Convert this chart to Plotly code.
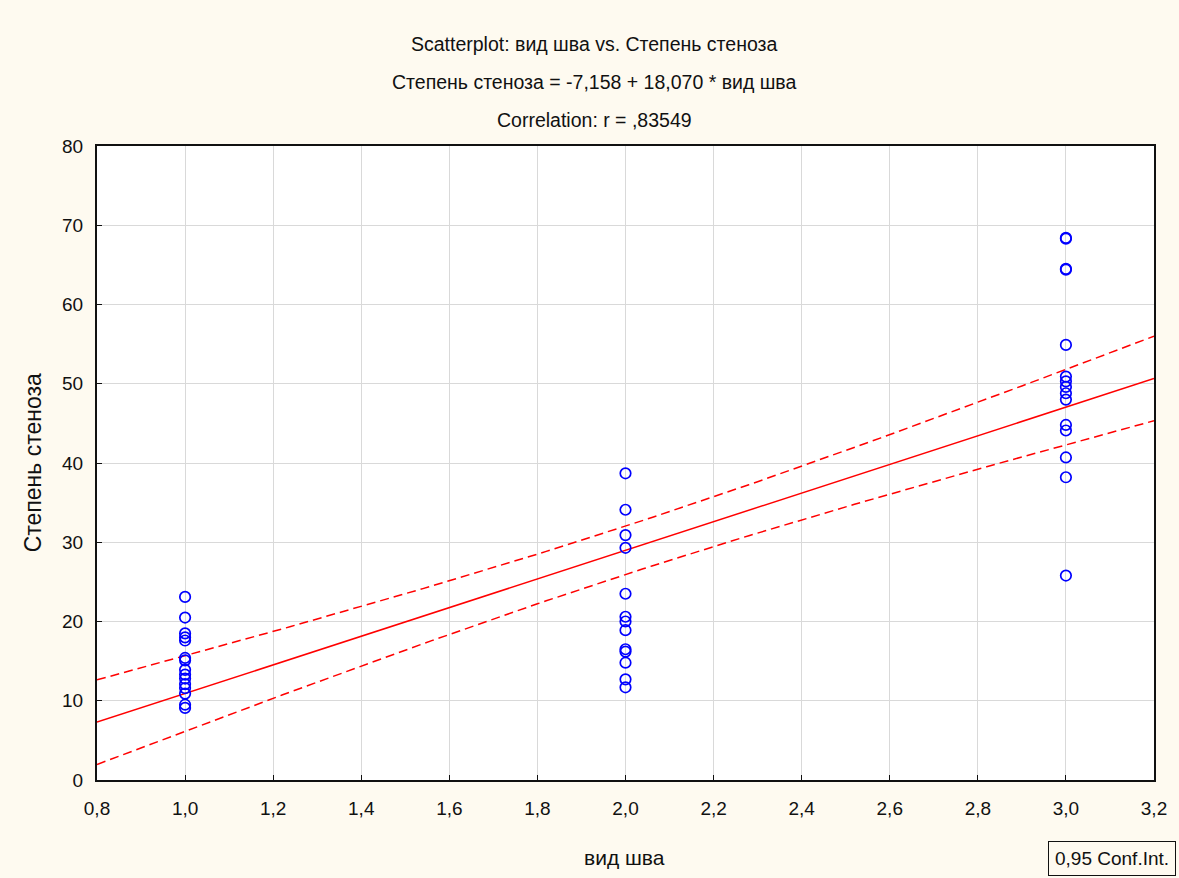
import numpy as np
import plotly.graph_objects as go

# ---- data ----
x_group1 = [1.0] * 15
y_group1 = [23.1, 20.5, 18.5, 18.0, 17.6, 15.4, 15.1, 13.9, 13.3, 12.8, 12.1, 11.6, 10.9, 9.5, 9.1]
x_group2 = [2.0] * 13
y_group2 = [38.7, 34.1, 30.9, 29.3, 23.5, 20.6, 20.0, 18.9, 16.5, 16.2, 14.8, 12.7, 11.7]
x_group3 = [3.0] * 15
y_group3 = [68.4, 68.3, 64.5, 64.4, 54.9, 50.9, 50.3, 49.6, 48.8, 48.0, 44.8, 44.1, 40.7, 38.2, 25.8]

# regression (from the chart title) and confidence band parameters
intercept = -7.158
slope = 18.070
x_mean = 2.0
ci_half_at_mean = 3.05
x_var = 0.70

x_ticks = [0.8, 1.0, 1.2, 1.4, 1.6, 1.8, 2.0, 2.2, 2.4, 2.6, 2.8, 3.0, 3.2]
x_tick_text = ["0,8", "1,0", "1,2", "1,4", "1,6", "1,8", "2,0", "2,2", "2,4", "2,6", "2,8", "3,0", "3,2"]
y_ticks = [0, 10, 20, 30, 40, 50, 60, 70, 80]

title_lines = [
    "Scatterplot: вид шва vs. Степень стеноза",
    "Степень стеноза = -7,158 + 18,070 * вид шва",
    "Correlation: r = ,83549",
]

xs = x_group1 + x_group2 + x_group3
ys = y_group1 + y_group2 + y_group3

xl = np.linspace(0.8, 3.2, 121)
yl = intercept + slope * xl
half = ci_half_at_mean * np.sqrt(1 + (xl - x_mean) ** 2 / x_var)

FONT = "Liberation Sans, Arial, sans-serif"
TXT = "#111111"

W, H = 1179, 878
ML, MR, MT, MB = 97, 20, 146, 98
pw = W - ML - MR
ph = H - MT - MB


def px(x):
    return (x - ML) / pw


def py(y):
    return (H - y - MB) / ph


fig = go.Figure()
fig.add_trace(go.Scatter(x=xl, y=yl + half, mode="lines",
                         line=dict(color="#ff0000", width=1.5, dash="9px,5px"),
                         hoverinfo="skip", showlegend=False))
fig.add_trace(go.Scatter(x=xl, y=yl - half, mode="lines",
                         line=dict(color="#ff0000", width=1.5, dash="9px,5px"),
                         hoverinfo="skip", showlegend=False))
fig.add_trace(go.Scatter(x=xl, y=yl, mode="lines",
                         line=dict(color="#ff0000", width=1.5),
                         showlegend=False))
fig.add_trace(go.Scatter(x=xs, y=ys, mode="markers",
                         marker=dict(symbol="circle-open", size=10.5, color="#0000ff",
                                     line=dict(width=1.7, color="#0000ff")),
                         showlegend=False))

annotations = []
for i, t in enumerate(title_lines):
    annotations.append(dict(text=t, x=px(597), y=py(44 + 38 * i), xref="paper", yref="paper",
                            showarrow=False, font=dict(family=FONT, size=19.5, color=TXT),
                            xanchor="center", yanchor="middle"))
annotations.append(dict(text="0,95 Conf.Int.", x=px(1053), y=py(841),
                        xref="paper", yref="paper", showarrow=False,
                        font=dict(family=FONT, size=19, color=TXT),
                        bordercolor=TXT, borderwidth=1, borderpad=6,
                        bgcolor="#fefaf0", xanchor="left", yanchor="top"))
annotations.append(dict(text="вид шва", x=px(627), y=py(858),
                        xref="paper", yref="paper", showarrow=False,
                        font=dict(family=FONT, size=21, color=TXT),
                        xanchor="center", yanchor="middle"))
annotations.append(dict(text="Степень стеноза", x=px(33), y=0.5,
                        xref="paper", yref="paper", showarrow=False, textangle=-90,
                        font=dict(family=FONT, size=23, color=TXT),
                        xanchor="center", yanchor="middle"))

fig.update_layout(
    width=W, height=H,
    paper_bgcolor="#fefaf0",
    plot_bgcolor="#ffffff",
    margin=dict(l=ML, r=MR, t=MT, b=MB),
    font=dict(family=FONT, size=18, color=TXT),
    showlegend=False,
    annotations=annotations,
)

axis_style = dict(showgrid=True, gridcolor="#d9d9d9", gridwidth=1,
                  showline=True, linecolor=TXT, linewidth=2, mirror=True,
                  ticks="inside", ticklen=5, tickcolor=TXT,
                  zeroline=False, tickfont=dict(family=FONT, size=19, color=TXT))
fig.update_xaxes(range=[0.8, 3.2], tickvals=x_ticks, ticktext=x_tick_text,
                 ticklabelstandoff=10, **axis_style)
fig.update_yaxes(range=[0, 80], tickvals=y_ticks, ticklabelstandoff=8, **axis_style)

fig.write_html("out.html",
               config={"displayModeBar": False},
               post_script="document.body.style.margin='0';document.body.style.padding='0';"
                           "document.body.style.overflow='hidden';")
